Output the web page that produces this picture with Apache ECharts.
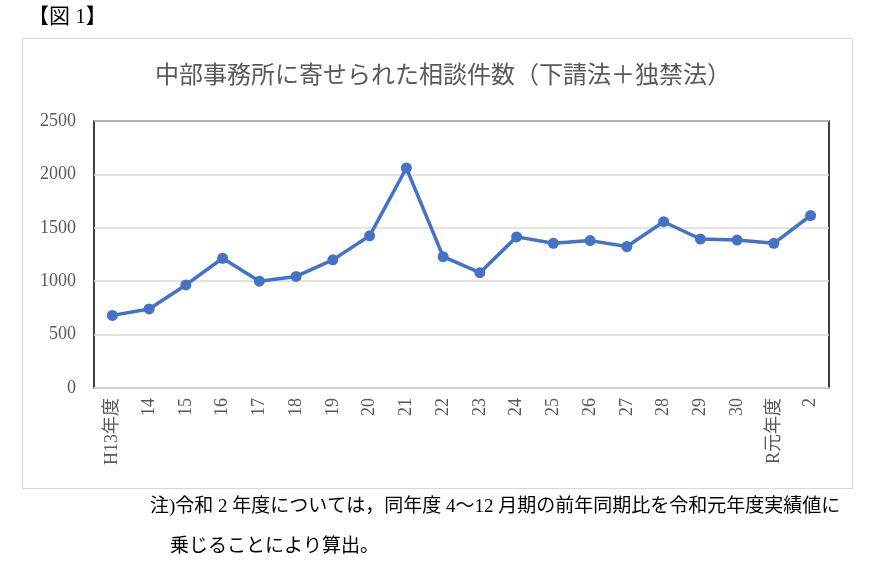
<!DOCTYPE html>
<html>
<head>
<meta charset="utf-8">
<script src="https://cdn.jsdelivr.net/npm/echarts@6/dist/echarts.min.js"></script>
<style>
  html, body { margin: 0; padding: 0; background: #fff; }
  #chart { width: 886px; height: 563px; }
</style>
</head>
<body>
<div id="chart"></div>
<script>
// 年度 (x axis categories)
const years = ['H13年度', '14', '15', '16', '17', '18', '19', '20', '21', '22', '23',
  '24', '25', '26', '27', '28', '29', '30', 'R元年度', '2']
// 相談件数
const counts = [680, 740, 965, 1215, 1000, 1045, 1200, 1425, 2060, 1230, 1080,
  1415, 1355, 1380, 1325, 1557, 1395, 1385, 1355, 1615]

const serif = '"Liberation Serif", "DejaVu Serif", "Noto Sans CJK JP", serif'

const chart = echarts.init(document.getElementById('chart'))
chart.setOption({
  animation: false,
  backgroundColor: '#fff',
  title: {
    text: '中部事務所に寄せられた相談件数（下請法＋独禁法）',
    left: 'center',
    top: 60,
    textStyle: {
      fontFamily: serif,
      fontSize: 24,
      fontWeight: 'normal',
      color: '#595959'
    }
  },
  graphic: [
    {
      type: 'rect',
      shape: { x: 22.5, y: 38.5, width: 830, height: 450 },
      style: { fill: 'none', stroke: '#d9d9d9', lineWidth: 1 },
      z: -1
    },
    {
      type: 'text',
      left: 28,
      top: 7,
      style: { text: '【図 1】', font: '21px ' + serif, fill: '#000' }
    },
    {
      type: 'text',
      left: 150,
      top: 498,
      style: {
        text: '注)令和 2 年度については，同年度 4～12 月期の前年同期比を令和元年度実績値に',
        font: '19px ' + serif,
        fill: '#000'
      }
    },
    {
      type: 'text',
      left: 170,
      top: 538,
      style: { text: '乗じることにより算出。', font: '19px ' + serif, fill: '#000' }
    }
  ],
  grid: {
    left: 94,
    right: 57,
    top: 121,
    bottom: 175,
    show: true,
    borderColor: '#000',
    borderWidth: 1.5,
    backgroundColor: 'transparent'
  },
  xAxis: {
    type: 'category',
    data: years,
    boundaryGap: true,
    axisTick: { show: false },
    axisLine: { lineStyle: { color: '#d9d9d9', width: 1.5 } },
    axisLabel: {
      rotate: 90,
      margin: 10,
      interval: 0,
      fontFamily: serif,
      fontSize: 18,
      color: '#595959'
    }
  },
  yAxis: {
    type: 'value',
    min: 0,
    max: 2500,
    interval: 500,
    axisLine: { show: false },
    axisTick: { show: false },
    axisLabel: {
      margin: 18,
      formatter: v => String(v),
      fontFamily: serif,
      fontSize: 18,
      color: '#595959'
    },
    splitLine: { lineStyle: { color: '#d9d9d9', width: 1.5 } }
  },
  series: [
    {
      name: '相談件数',
      type: 'line',
      data: counts,
      symbol: 'circle',
      symbolSize: 11,
      itemStyle: { color: '#4472C4' },
      lineStyle: { color: '#4472C4', width: 3.5 }
    }
  ]
})
</script>
</body>
</html>
